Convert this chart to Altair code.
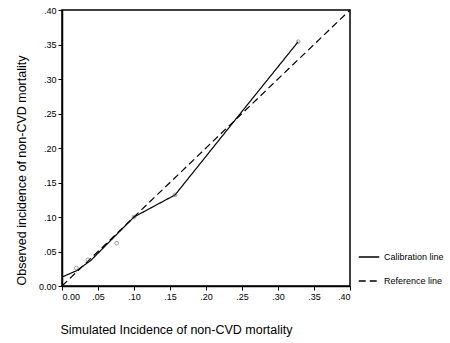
import altair as alt
import pandas as pd

# Calibration line (observed vs simulated)
cal_x = [0.0, 0.02, 0.04, 0.10, 0.157, 0.24, 0.328]
cal_y = [0.013, 0.022, 0.037, 0.100, 0.132, 0.240, 0.354]
# Observed points
pt_x = [0.020, 0.036, 0.076, 0.100, 0.157, 0.328]
pt_y = [0.026, 0.038, 0.062, 0.100, 0.132, 0.354]
# Reference line
ref_x = [0.0, 0.40]
ref_y = [0.0, 0.40]

series_names = ["Calibration line", "Reference line"]

lines = pd.DataFrame(
    {"x": cal_x + ref_x, "y": cal_y + ref_y,
     "series": [series_names[0]] * len(cal_x) + [series_names[1]] * len(ref_x),
     "order": list(range(len(cal_x))) + list(range(len(ref_x)))}
)
points = pd.DataFrame({"x": pt_x, "y": pt_y})

lab = "datum.value == 0 ? '0.00' : replace(format(datum.value, '.2f'), '0.', '.')"
ticks = [0, 0.05, 0.10, 0.15, 0.20, 0.25, 0.30, 0.35, 0.40]

xs = alt.Scale(domain=[0, 0.4], nice=False, zero=False)
ys = alt.Scale(domain=[0, 0.4], nice=False, zero=False)

common = dict(values=ticks, labelExpr=lab, grid=False, tickSize=4, tickColor="black",
              domainColor="black", domainWidth=1.5, labelFont="Liberation Sans",
              labelFontSize=9, labelColor="black", labelOverlap=False,
              titleFont="Liberation Sans", titleFontSize=12.5, titleFontWeight="normal",
              titleColor="black", labelPadding=2)

xaxis = alt.Axis(title="Simulated Incidence of non-CVD mortality",
                 titlePadding=22, titleX=114, **common)
yaxis = alt.Axis(title="Observed incidence of non-CVD mortality",
                 titlePadding=10, titleY=160, **common)

line_layer = alt.Chart(lines).mark_line(color="black", strokeWidth=1.2).encode(
    x=alt.X("x:Q", scale=xs, axis=xaxis),
    y=alt.Y("y:Q", scale=ys, axis=yaxis),
    detail="series:N",
    order="order:Q",
    strokeDash=alt.StrokeDash(
        "series:N",
        scale=alt.Scale(domain=series_names, range=[[1, 0], [7, 4]]),
        legend=alt.Legend(title=None, orient="none", legendX=296, legendY=236,
                          symbolType="stroke", symbolSize=420, symbolStrokeWidth=1.4,
                          symbolStrokeColor="black", labelFontSize=9,
                          labelFont="Liberation Sans", labelColor="black",
                          rowPadding=8, labelOffset=4),
    ),
)

point_layer = alt.Chart(points).mark_point(
    shape="circle", size=14, color="#555555", strokeWidth=0.8, filled=False
).encode(x=alt.X("x:Q", scale=xs, axis=xaxis), y=alt.Y("y:Q", scale=ys, axis=yaxis))

chart = (
    alt.layer(line_layer, point_layer)
    .properties(width=288, height=276, autosize=alt.AutoSizeParams(type="none"),
                padding={"left": 62, "top": 10, "right": 100, "bottom": 57},
                background="white")
    .configure_view(stroke="black", strokeWidth=1.5)
)

chart.save("out.html", embed_options={"renderer": "svg", "actions": False})
